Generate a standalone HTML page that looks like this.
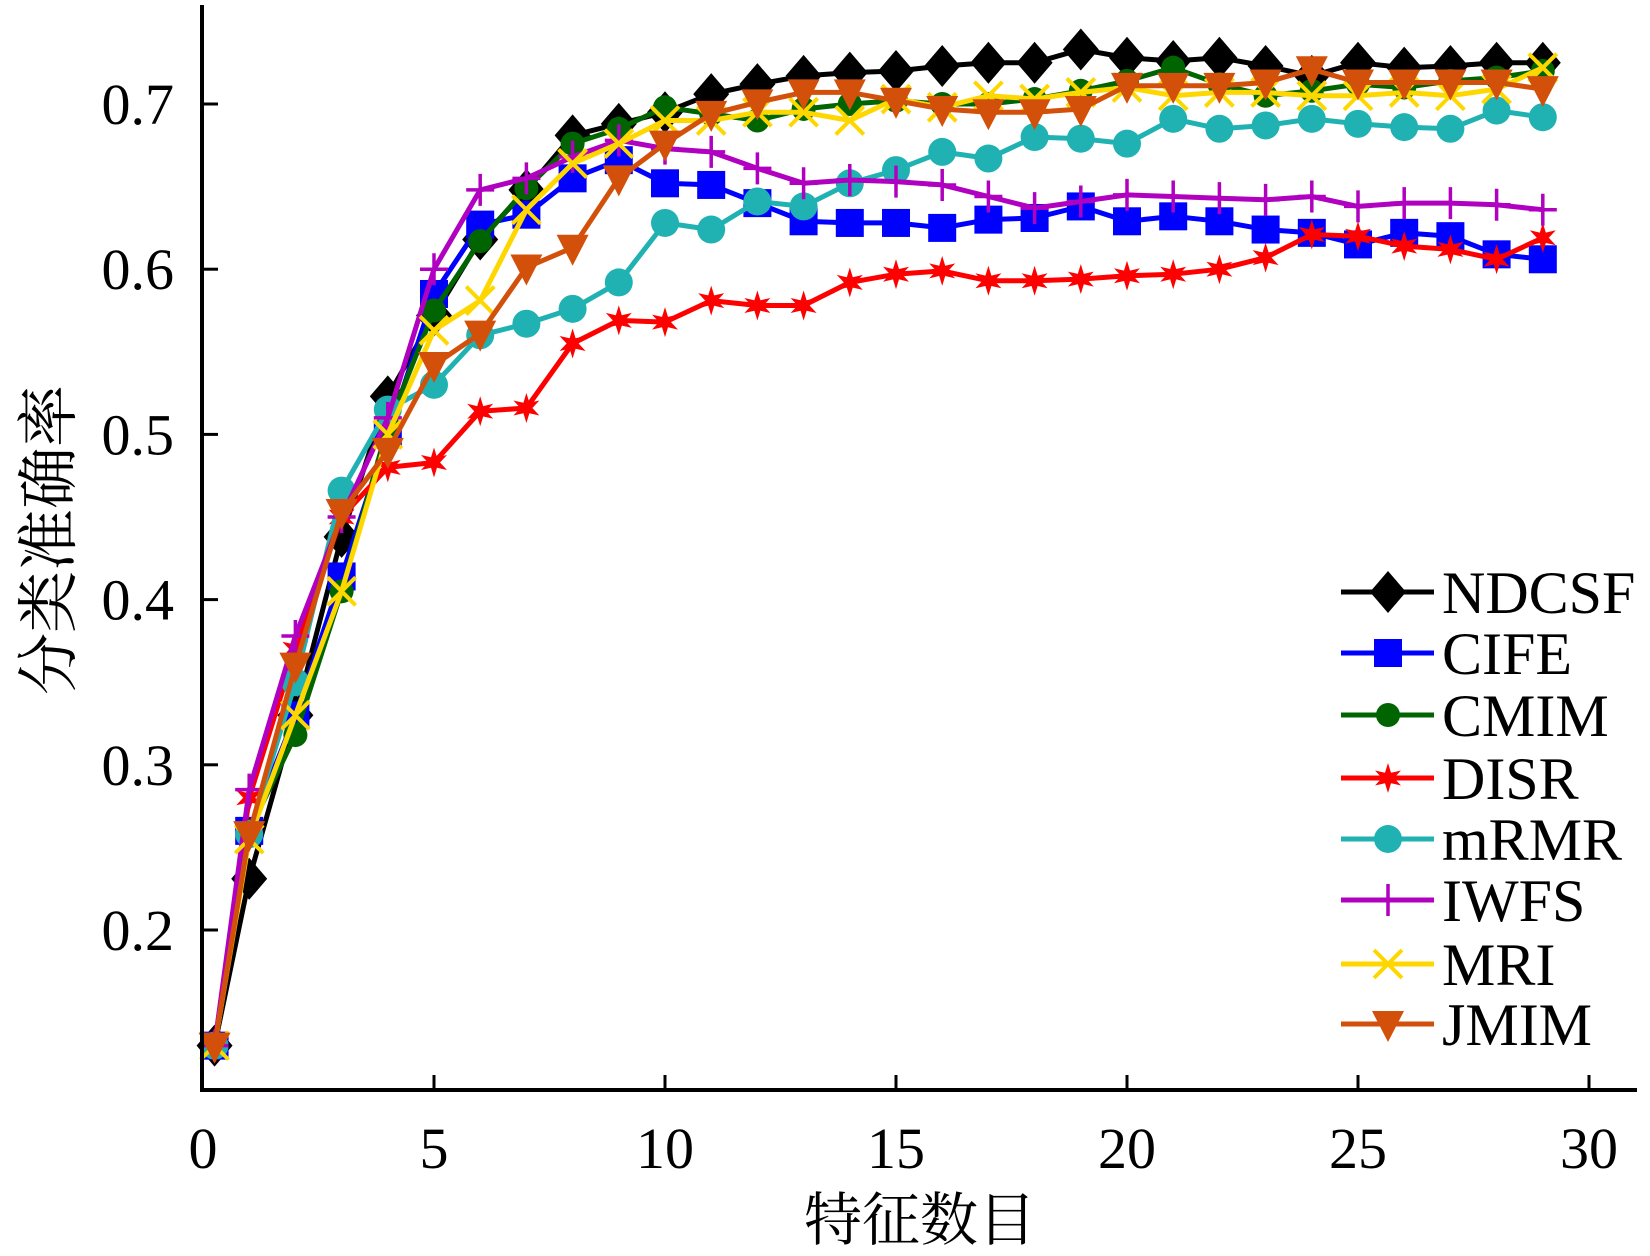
<!DOCTYPE html>
<html><head><meta charset="utf-8"><style>
html,body{margin:0;padding:0;background:#fff;}
svg{display:block;font-family:"Liberation Serif","Noto Serif CJK SC",serif;}
</style></head><body>
<svg id="chart" width="1650" height="1256" viewBox="0 0 1650 1256" xmlns="http://www.w3.org/2000/svg">
<g id="plot"></g>
<g id="axes"></g>
<g id="legend"></g>
</svg>
<script>
const xs = [0.25,1,2,3,4,5,6,7,8,9,10,11,12,13,14,15,16,17,18,19,20,21,22,23,24,25,26,27,28,29];
const seriesNames = ["NDCSF","CIFE","CMIM","DISR","mRMR","IWFS","MRI","JMIM"];
const ndcsf = [0.13,0.231,0.33,0.438,0.523,0.572,0.618,0.648,0.681,0.688,0.695,0.706,0.712,0.717,0.719,0.720,0.723,0.725,0.725,0.733,0.728,0.726,0.728,0.723,0.717,0.725,0.722,0.723,0.725,0.725];
const cife = [0.13,0.26,0.33,0.414,0.50,0.585,0.627,0.633,0.655,0.666,0.652,0.651,0.640,0.629,0.628,0.628,0.625,0.630,0.631,0.638,0.629,0.632,0.629,0.624,0.622,0.615,0.622,0.620,0.609,0.606];
const cmim = [0.13,0.26,0.318,0.405,0.505,0.575,0.617,0.649,0.676,0.685,0.698,0.694,0.690,0.697,0.700,0.702,0.700,0.700,0.703,0.708,0.714,0.722,0.712,0.705,0.708,0.712,0.710,0.714,0.716,0.720];
const disr = [0.13,0.28,0.37,0.45,0.48,0.483,0.514,0.516,0.555,0.569,0.568,0.581,0.578,0.578,0.592,0.597,0.599,0.593,0.593,0.594,0.596,0.597,0.600,0.607,0.621,0.620,0.614,0.612,0.606,0.619];
const mrmr = [0.13,0.258,0.35,0.466,0.515,0.53,0.56,0.567,0.576,0.592,0.628,0.624,0.641,0.638,0.652,0.660,0.671,0.667,0.680,0.679,0.676,0.691,0.685,0.687,0.691,0.688,0.686,0.685,0.696,0.692];
const iwfs = [0.13,0.285,0.378,0.45,0.51,0.60,0.648,0.655,0.668,0.678,0.673,0.671,0.661,0.652,0.654,0.653,0.651,0.644,0.637,0.641,0.645,0.644,0.643,0.642,0.644,0.638,0.640,0.640,0.639,0.636];
const mri = [0.13,0.255,0.33,0.405,0.50,0.563,0.581,0.636,0.664,0.676,0.690,0.690,0.695,0.695,0.690,0.703,0.698,0.705,0.703,0.707,0.710,0.705,0.707,0.707,0.705,0.705,0.707,0.705,0.709,0.722];
const jmim = [0.13,0.258,0.36,0.453,0.49,0.542,0.561,0.601,0.613,0.655,0.676,0.694,0.701,0.707,0.707,0.702,0.697,0.695,0.695,0.697,0.711,0.711,0.711,0.713,0.721,0.713,0.713,0.713,0.713,0.709];
const xTicks = [0,5,10,15,20,25,30];
const yTicks = [0.2,0.3,0.4,0.5,0.6,0.7];
const yTickLabels = ["0.2","0.3","0.4","0.5","0.6","0.7"];

const NS="http://www.w3.org/2000/svg";
const X = v => 203 + v*46.2;
const Y = v => 104 + (0.7 - v)*1652;
const colors = ["#000000","#0000ff","#006400","#ff0000","#20b2b2","#b000c0","#ffd700","#d2500a"];
const markers = ["diamond","square","circle","star","hex","plus","cross","tri"];
const data = [ndcsf,cife,cmim,disr,mrmr,iwfs,mri,jmim];
function mk(tag, attrs, parent){const e=document.createElementNS(NS,tag);for(const k in attrs)e.setAttribute(k,attrs[k]);parent.appendChild(e);return e;}
function marker(type,cx,cy,c,parent){
  let e;
  if(type==="diamond") e=mk("polygon",{points:`${cx},${cy-21} ${cx+18},${cy} ${cx},${cy+21} ${cx-18},${cy}`,fill:c},parent);
  else if(type==="square") e=mk("rect",{x:cx-14,y:cy-14,width:28,height:28,fill:c},parent);
  else if(type==="circle") e=mk("circle",{cx:cx,cy:cy,r:12,fill:c},parent);
  else if(type==="hex") e=mk("circle",{cx:cx,cy:cy,r:14,fill:c},parent);
  else if(type==="star"){let p=[];for(let i=0;i<12;i++){const r=i%2?6:15;const a=Math.PI/6*i-Math.PI/2;p.push((cx+r*Math.cos(a)).toFixed(1)+","+(cy+r*Math.sin(a)).toFixed(1));}e=mk("polygon",{points:p.join(" "),fill:c},parent);}
  else if(type==="plus") e=mk("path",{d:`M${cx-14},${cy}H${cx+14}M${cx},${cy-16}V${cy+16}`,stroke:c,"stroke-width":3.5,fill:"none"},parent);
  else if(type==="cross") e=mk("path",{d:`M${cx-14},${cy-14}L${cx+14},${cy+14}M${cx+14},${cy-14}L${cx-14},${cy+14}`,stroke:c,"stroke-width":4,fill:"none"},parent);
  else e=mk("polygon",{points:`${cx-16},${cy-13} ${cx+16},${cy-13} ${cx},${cy+18}`,fill:c},parent);
  return e;
}
const plot=document.getElementById("plot");
data.forEach((s,si)=>{
  const g=mk("g",{},plot);
  
  
  const pts=s.map((v,i)=>X(xs[i]).toFixed(1)+","+Y(v).toFixed(1)).join(" ");
  const pl=mk("polyline",{points:pts,fill:"none",stroke:colors[si],"stroke-width":5,"stroke-linejoin":"round"},g);
  
  
  s.forEach((v,i)=>{
    const m=marker(markers[si],X(xs[i]),Y(v),colors[si],g);
    
    
  });
});
const axes=document.getElementById("axes");
const ya=mk("line",{x1:202,y1:5,x2:202,y2:1092,stroke:"#000","stroke-width":4},axes);


const xa=mk("line",{x1:200,y1:1090,x2:1637,y2:1090,stroke:"#000","stroke-width":4},axes);


xTicks.forEach(t=>{
  if(t>0){const tk=mk("line",{x1:X(t),y1:1090,x2:X(t),y2:1075,stroke:"#000","stroke-width":3},axes);
  
  }
  const tx=mk("text",{x:X(t),y:1168,"text-anchor":"middle","font-size":58},axes);
  tx.textContent=String(t);
  
  
});
yTicks.forEach((t,i)=>{
  const tk=mk("line",{x1:202,y1:Y(t),x2:218,y2:Y(t),stroke:"#000","stroke-width":3},axes);
  
  
  const tx=mk("text",{x:174,y:Y(t)+20,"text-anchor":"end","font-size":58},axes);
  tx.textContent=yTickLabels[i];
  
  
});
const xt=mk("text",{x:920,y:1240,"text-anchor":"middle","font-size":58},axes);
xt.textContent="特征数目";


const yt=mk("text",{x:0,y:0,"text-anchor":"middle","font-size":62,transform:"translate(70,540) rotate(-90)"},axes);
yt.textContent="分类准确率";


const leg=document.getElementById("legend");
const legY=[592,653,715,778,839,900,964,1024];
seriesNames.forEach((n,i)=>{
  const g=mk("g",{},leg);
  
  
  mk("line",{x1:1341,y1:legY[i],x2:1434,y2:legY[i],stroke:colors[i],"stroke-width":5},g);
  marker(markers[i],1388,legY[i],colors[i],g);
  const t=mk("text",{x:1442,y:legY[i]+21,"font-size":60},g);
  t.textContent=n;
});
</script>
</body></html>
